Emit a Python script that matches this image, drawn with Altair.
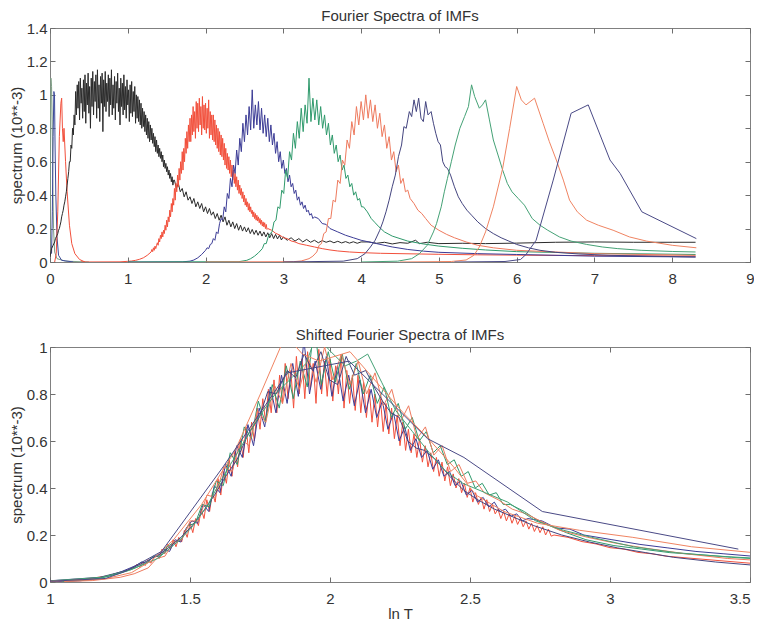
import altair as alt
import pandas as pd

# ---------------- data ----------------
LN2 = 0.6931  # shift between successive IMFs (ln 2)

C0_X = [0.0, 0.005, 0.012, 0.02, 0.028, 0.035, 0.045, 0.06, 0.09, 0.2, 0.5]
C0_Y = [0.1, 0.6, 1.1, 1.05, 0.85, 0.5, 0.2, 0.06, 0.02, 0.005, 0.0]
C1_X = [0.02, 0.03, 0.04, 0.05, 0.058, 0.065, 0.075, 0.09, 0.11, 0.15, 0.3]
C1_Y = [0.05, 0.3, 0.75, 1.02, 1.0, 0.7, 0.4, 0.15, 0.04, 0.01, 0.0]
C2_X = [0.06, 0.08, 0.1, 0.12, 0.14, 0.15, 0.16, 0.17, 0.18, 0.2, 0.22, 0.25, 0.28, 0.32, 0.38, 0.45]
C2_Y = [0.0, 0.05, 0.3, 0.75, 0.95, 0.98, 0.8, 0.72, 0.8, 0.6, 0.42, 0.22, 0.11, 0.05, 0.015, 0.0]

# IMF1 (black)
IMF1_PRE_X = [0.0, 0.02, 0.04]
IMF1_PRE_Y = [0.03, 0.08, 0.1]
IMF1_D_X0, IMF1_D_DX = 0.06, 0.01
IMF1_D_Y = [
    0.12, 0.14, 0.15, 0.16, 0.17, 0.19, 0.20, 0.22, 0.24, 0.27,
    0.29, 0.31, 0.34, 0.36, 0.39, 0.42, 0.46, 0.50, 0.54, 0.60,
    0.60, 0.70, 0.68, 0.80, 0.76, 0.88, 0.82,
    1.02, 0.88, 1.06, 0.92, 1.08, 0.85, 1.10, 0.95, 1.04, 0.86,
    1.09, 0.90, 1.12, 0.83, 1.07, 0.94, 1.13, 0.89, 1.05, 0.80,
    1.10, 0.93, 1.14, 0.88, 1.08, 0.96, 1.12, 0.86, 1.15, 0.92,
    1.06, 0.84, 1.11, 0.95, 1.13, 0.78, 1.09, 0.93, 1.14, 0.90,
    1.07, 0.96, 1.12, 0.87, 1.10, 0.94, 1.15, 0.88, 1.06, 0.92,
    1.11, 0.85, 1.08, 0.95, 1.13, 0.90, 1.04, 0.82, 1.10, 0.93,
    1.07, 0.88, 1.12, 0.91, 1.05, 0.86, 1.09, 0.94, 1.03, 0.84,
    1.06, 0.89, 1.08, 0.87, 1.02, 0.90, 1.05, 0.83, 1.00, 0.86,
    0.99, 0.84, 0.97, 0.82, 0.95, 0.80, 0.92, 0.81, 0.90, 0.78,
    0.88, 0.76, 0.86, 0.74, 0.84, 0.72, 0.82, 0.73, 0.80, 0.71,
    0.77, 0.69, 0.75, 0.66, 0.73, 0.65, 0.70, 0.63, 0.68, 0.62,
    0.66, 0.60, 0.64, 0.57, 0.61, 0.56, 0.59, 0.54, 0.57, 0.52,
    0.55, 0.50, 0.53, 0.48, 0.51, 0.46, 0.49,
]
IMF1_T_X0, IMF1_T_DX = 1.60, 0.025
IMF1_T_Y = [
    0.49, 0.44, 0.47, 0.42, 0.44, 0.39, 0.42, 0.37, 0.39, 0.35,
    0.38, 0.33, 0.36, 0.32, 0.35, 0.30, 0.33, 0.29, 0.32, 0.28,
    0.30, 0.26, 0.29, 0.25, 0.28, 0.24, 0.27, 0.22, 0.25, 0.21,
    0.24, 0.20, 0.23, 0.19, 0.22, 0.185, 0.21, 0.18, 0.205, 0.17,
    0.195, 0.165, 0.19, 0.16, 0.185, 0.155, 0.18, 0.15, 0.175, 0.145,
    0.17, 0.14, 0.165, 0.138, 0.16, 0.132, 0.15,
]
IMF1_U_X0, IMF1_U_DX = 3.05, 0.05
IMF1_U_Y = [0.13, 0.145, 0.125, 0.14, 0.12, 0.135, 0.118, 0.13, 0.115, 0.128,
            0.118, 0.126, 0.115, 0.124, 0.114, 0.122, 0.113, 0.121, 0.112, 0.12]
IMF1_END_X = [4.1, 4.2, 4.3, 4.4, 4.5, 4.6, 4.7, 4.75, 4.85, 5.0, 5.3, 5.6, 6.0, 6.5, 7.0, 7.5, 8.0, 8.3]
IMF1_END_Y = [0.12, 0.112, 0.118, 0.108, 0.116, 0.112, 0.13, 0.11, 0.118, 0.11, 0.112, 0.11,
              0.113, 0.118, 0.12, 0.118, 0.118, 0.118]

# IMF2 (red)
IMF2_PRE_X = [0.4, 0.9, 1.0, 1.05, 1.1, 1.15, 1.2, 1.25]
IMF2_PRE_Y = [0.0, 0.001, 0.004, 0.006, 0.01, 0.016, 0.025, 0.04]
IMF2_D_X0, IMF2_D_DX = 1.30, 0.01
IMF2_D_Y = [
    0.06, 0.075, 0.062, 0.085, 0.07, 0.095, 0.08, 0.10, 0.115, 0.10,
    0.14, 0.12, 0.16, 0.14, 0.18, 0.15, 0.19, 0.17, 0.22, 0.19,
    0.25, 0.21, 0.27, 0.24, 0.31, 0.27, 0.35, 0.30, 0.38, 0.34,
    0.44, 0.37, 0.47, 0.42, 0.52, 0.45, 0.56, 0.49, 0.60, 0.53,
    0.66, 0.55, 0.68, 0.60, 0.74, 0.65, 0.78, 0.68, 0.82, 0.72,
    0.86, 0.72, 0.88, 0.76, 0.93, 0.78, 0.90, 0.74, 0.96, 0.80,
    0.95, 0.78, 0.98, 0.82, 0.93, 0.76, 0.99, 0.80, 0.94, 0.79,
    0.95, 0.77, 0.92, 0.80, 0.97, 0.74, 0.90, 0.76, 0.88, 0.73,
    0.88, 0.72, 0.85, 0.70, 0.82, 0.68, 0.80, 0.66, 0.78, 0.64,
    0.76, 0.63, 0.74, 0.61, 0.71, 0.58, 0.68, 0.56, 0.65, 0.55,
    0.63, 0.53, 0.61, 0.51, 0.58, 0.49, 0.55, 0.47, 0.53, 0.45,
    0.51, 0.43, 0.49, 0.41, 0.46, 0.40, 0.44, 0.38, 0.42, 0.36,
    0.40, 0.34, 0.38, 0.33, 0.36, 0.31, 0.35, 0.30, 0.33, 0.29,
    0.31, 0.27, 0.30, 0.26, 0.29, 0.25, 0.28, 0.245, 0.27, 0.235,
    0.26, 0.225, 0.25, 0.215, 0.24, 0.21, 0.235, 0.20, 0.225, 0.195,
    0.20,
]
IMF2_T_X = [2.85, 2.9, 2.95, 3.0, 3.05, 3.1, 3.15, 3.2, 3.3, 3.4, 3.5, 3.6, 3.7, 3.85, 4.0,
            4.25, 4.5, 5.0, 5.5, 6.0, 7.0, 8.3]
IMF2_T_Y = [0.19, 0.172, 0.162, 0.146, 0.14, 0.126, 0.12, 0.11, 0.1, 0.09, 0.08, 0.072, 0.066,
            0.06, 0.056, 0.052, 0.05, 0.046, 0.043, 0.041, 0.038, 0.035]

# IMF3 (blue)
IMF3_PRE_X = [1.0, 1.7, 1.8, 1.85, 1.9, 1.95]
IMF3_PRE_Y = [0.0, 0.001, 0.005, 0.012, 0.025, 0.045]
IMF3_D_X0, IMF3_D_DX = 2.00, 0.02
IMF3_D_Y = [
    0.07, 0.085, 0.08, 0.105, 0.11, 0.14, 0.13, 0.18, 0.17, 0.23,
    0.26, 0.25, 0.33, 0.30, 0.41, 0.38, 0.50, 0.45, 0.58, 0.53,
    0.67, 0.58, 0.74, 0.66, 0.83, 0.72, 0.88, 0.76, 0.93, 0.79,
    1.03, 0.80, 0.94, 0.82, 0.96, 0.79, 0.92, 0.77, 0.88, 0.75,
    0.86, 0.72, 0.82, 0.70, 0.77, 0.65, 0.72, 0.60, 0.66, 0.56,
    0.61, 0.53, 0.56, 0.48, 0.52, 0.45, 0.47, 0.41, 0.43, 0.37,
    0.39, 0.34, 0.36, 0.32, 0.34, 0.30, 0.31, 0.28, 0.29, 0.26,
    0.27,
]
IMF3_T_X = [3.45, 3.5, 3.55, 3.6, 3.7, 3.8, 3.9, 4.0, 4.1, 4.2, 4.4, 4.6, 4.8, 5.0, 5.5, 6.0, 7.0, 8.3]
IMF3_T_Y = [0.26, 0.23, 0.225, 0.2, 0.18, 0.16, 0.145, 0.13, 0.12, 0.11, 0.09, 0.075, 0.065,
            0.058, 0.05, 0.045, 0.035, 0.03]

# IMF4 (green)
IMF4_PRE_X = [1.0, 2.43, 2.53, 2.58, 2.63, 2.68]
IMF4_PRE_Y = [0.0, 0.002, 0.01, 0.02, 0.035, 0.055]
IMF4_D_X0, IMF4_D_DX = 2.73, 0.025
IMF4_D_Y = [
    0.08, 0.11, 0.11, 0.15, 0.17, 0.18, 0.24, 0.25, 0.33, 0.32,
    0.43, 0.41, 0.55, 0.50, 0.66, 0.61, 0.77, 0.68, 0.84, 0.74,
    0.92, 0.78, 0.94, 0.83, 1.10, 0.84, 0.98, 0.85, 0.97, 0.82,
    0.93, 0.80, 0.88, 0.76, 0.83, 0.70, 0.76, 0.65, 0.70, 0.60,
    0.64, 0.55, 0.58, 0.50, 0.52, 0.45, 0.47, 0.40, 0.42, 0.37,
    0.38, 0.33, 0.33,
]
IMF4_T_X = [4.08, 4.13, 4.18, 4.23, 4.3, 4.4, 4.5, 4.6, 4.8, 5.0, 5.3, 5.6, 6.0, 7.0, 8.3]
IMF4_T_Y = [0.30, 0.26, 0.235, 0.21, 0.18, 0.155, 0.14, 0.125, 0.108, 0.095, 0.082, 0.072,
            0.062, 0.052, 0.045]

# IMF5 (salmon)
IMF5_PRE_X = [2.0, 3.13, 3.23, 3.33, 3.38]
IMF5_PRE_Y = [0.0, 0.002, 0.006, 0.02, 0.035]
IMF5_D_X0, IMF5_D_DX = 3.43, 0.03
IMF5_D_Y = [
    0.06, 0.10, 0.11, 0.17, 0.18, 0.26, 0.26, 0.37, 0.36, 0.49,
    0.47, 0.61, 0.58, 0.73, 0.68, 0.84, 0.76, 0.93, 0.82, 0.96,
    0.85, 1.00, 0.86, 0.97, 0.84, 0.94, 0.80, 0.89, 0.75, 0.82,
    0.68, 0.75, 0.61, 0.66, 0.54, 0.58, 0.47, 0.50, 0.42, 0.43,
    0.38,
]
IMF5_T_X = [4.68, 4.73, 4.78, 4.83, 4.9, 5.0, 5.1, 5.2, 5.35, 5.5, 5.7, 6.0, 6.5, 7.0, 8.3]
IMF5_T_Y = [0.35, 0.31, 0.29, 0.26, 0.22, 0.19, 0.165, 0.145, 0.12, 0.10, 0.085, 0.07, 0.06,
            0.05, 0.04]

# IMF6 (dark blue)
IMF6_X = [3.0, 3.77, 3.95, 4.05, 4.12, 4.18, 4.24, 4.28, 4.32, 4.36, 4.40, 4.44, 4.48, 4.52,
          4.55, 4.58, 4.62, 4.65, 4.68, 4.71, 4.74, 4.77, 4.80, 4.83, 4.86, 4.90, 4.93, 4.96,
          4.99, 5.02, 5.05, 5.08, 5.11, 5.15, 5.20, 5.25, 5.30, 5.36, 5.42, 5.50, 5.60, 5.70,
          5.80, 5.90, 6.00, 6.15, 6.30, 6.50, 6.80, 7.20, 7.70, 8.30]
IMF6_Y = [0.0, 0.005, 0.02, 0.05, 0.09, 0.13, 0.19, 0.24, 0.30, 0.37, 0.45, 0.52, 0.63, 0.7,
          0.81, 0.8, 0.9, 0.87, 0.97, 0.9, 0.98, 0.86, 0.84, 0.96, 0.88, 0.9, 0.83, 0.77,
          0.72, 0.7, 0.6, 0.57, 0.56, 0.52, 0.45, 0.39, 0.35, 0.31, 0.28, 0.24, 0.2, 0.17,
          0.145, 0.125, 0.105, 0.085, 0.07, 0.058, 0.048, 0.04, 0.035, 0.03]

# IMF7 (green)
IMF7_X = [4.0, 4.47, 4.65, 4.75, 4.85, 4.93, 4.97, 5.03, 5.07, 5.11, 5.16, 5.21, 5.27, 5.33,
          5.38, 5.42, 5.46, 5.52, 5.56, 5.60, 5.65, 5.70, 5.76, 5.82, 5.88, 5.94, 6.02, 6.10,
          6.20, 6.30, 6.40, 6.55, 6.70, 6.90, 7.10, 7.30, 7.60, 8.00, 8.30]
IMF7_Y = [0.0, 0.005, 0.02, 0.05, 0.1, 0.18, 0.23, 0.33, 0.42, 0.5, 0.6, 0.7, 0.8, 0.87,
          0.93, 1.06, 0.99, 0.92, 0.94, 0.97, 0.85, 0.73, 0.64, 0.55, 0.47, 0.42, 0.38, 0.34,
          0.26, 0.22, 0.19, 0.15, 0.125, 0.105, 0.09, 0.08, 0.07, 0.063, 0.06]

# IMF8 (orange)
IMF8_X = [4.5, 5.16, 5.35, 5.45, 5.52, 5.60, 5.70, 5.82, 5.91, 6.00, 6.06, 6.12, 6.23, 6.34,
          6.42, 6.51, 6.60, 6.68, 6.78, 6.90, 7.05, 7.24, 7.45, 7.67, 8.00, 8.31]
IMF8_Y = [0.0, 0.003, 0.012, 0.04, 0.09, 0.18, 0.33, 0.56, 0.8, 1.05, 0.97, 0.94, 0.98, 0.83,
          0.72, 0.61, 0.49, 0.37, 0.3, 0.25, 0.22, 0.19, 0.15, 0.125, 0.1, 0.085]

# IMF9 (dark blue)
IMF9_X = [5.2, 5.85, 6.05, 6.12, 6.25, 6.47, 6.70, 6.92, 7.20, 7.33, 7.61, 8.31]
IMF9_Y = [0.0, 0.003, 0.015, 0.045, 0.13, 0.49, 0.89, 0.94, 0.61, 0.53, 0.30, 0.14]

NAMES = ["c0", "c1", "c2", "imf1", "imf2", "imf3", "imf4", "imf5", "imf6", "imf7", "imf8", "imf9"]
COLORS = ["#7f9f86", "#3d4a9a", "#f2503c", "#2b2b2b", "#f2503c", "#3c3c96", "#2f9a6c",
          "#ee7a5e", "#44457f", "#45a276", "#f08462", "#4a4a86"]
SHIFTED = ["imf2", "imf3", "imf4", "imf5", "imf6", "imf7", "imf8", "imf9"]
SHIFT_STEPS = [0, 1, 2, 3, 4, 5, 6, 7]

TOP_X_TICKS = [0, 1, 2, 3, 4, 5, 6, 7, 8, 9]
TOP_Y_TICKS = [0, 0.2, 0.4, 0.6, 0.8, 1.0, 1.2, 1.4]
BOT_X_TICKS = [1, 1.5, 2, 2.5, 3, 3.5]
BOT_Y_TICKS = [0, 0.2, 0.4, 0.6, 0.8, 1.0]


# ---------------- build tables ----------------
def grid(x0, dx, ys):
    return [round(x0 + i * dx, 5) for i in range(len(ys))]


curves = {
    "c0": (C0_X, C0_Y),
    "c1": (C1_X, C1_Y),
    "c2": (C2_X, C2_Y),
    "imf1": (IMF1_PRE_X + grid(IMF1_D_X0, IMF1_D_DX, IMF1_D_Y) + grid(IMF1_T_X0, IMF1_T_DX, IMF1_T_Y)
             + grid(IMF1_U_X0, IMF1_U_DX, IMF1_U_Y) + IMF1_END_X,
             IMF1_PRE_Y + IMF1_D_Y + IMF1_T_Y + IMF1_U_Y + IMF1_END_Y),
    "imf2": (IMF2_PRE_X + grid(IMF2_D_X0, IMF2_D_DX, IMF2_D_Y) + IMF2_T_X, IMF2_PRE_Y + IMF2_D_Y + IMF2_T_Y),
    "imf3": (IMF3_PRE_X + grid(IMF3_D_X0, IMF3_D_DX, IMF3_D_Y) + IMF3_T_X, IMF3_PRE_Y + IMF3_D_Y + IMF3_T_Y),
    "imf4": (IMF4_PRE_X + grid(IMF4_D_X0, IMF4_D_DX, IMF4_D_Y) + IMF4_T_X, IMF4_PRE_Y + IMF4_D_Y + IMF4_T_Y),
    "imf5": (IMF5_PRE_X + grid(IMF5_D_X0, IMF5_D_DX, IMF5_D_Y) + IMF5_T_X, IMF5_PRE_Y + IMF5_D_Y + IMF5_T_Y),
    "imf6": (IMF6_X, IMF6_Y),
    "imf7": (IMF7_X, IMF7_Y),
    "imf8": (IMF8_X, IMF8_Y),
    "imf9": (IMF9_X, IMF9_Y),
}

rows = []
for name in NAMES:
    xs, ys = curves[name]
    for xv, yv in zip(xs, ys):
        rows.append({"x": xv, "y": yv, "curve": name})
top_df = pd.DataFrame(rows)

brows = []
for name, k in zip(SHIFTED, SHIFT_STEPS):
    xs, ys = curves[name]
    for xv, yv in zip(xs, ys):
        brows.append({"x": xv - k * LN2, "y": yv, "curve": name})
bot_df = pd.DataFrame(brows)
bot_df = bot_df[(bot_df.x > 0.7) & (bot_df.x < 3.8)]

# ---------------- styling ----------------
FONT = "Liberation Sans"
TXT = "#333333"
AXC = "#6e6e6e"


def ax(orient, values, labels=True, title=None, last=None):
    is_y = orient in ("left", "right")
    kw = dict(orient=orient, values=values, format="~g", labels=labels, title=title,
              offset=-5, tickSize=5, tickColor=AXC, tickWidth=1, domain=False, grid=False,
              labelFlush=False, labelFont=FONT, labelFontSize=15, labelColor=TXT,
              labelPadding=3 if is_y else 9, titleFont=FONT, titleFontSize=15,
              titleColor=TXT, titleFontWeight="normal", titlePadding=2 if is_y else 0)
    if last is not None:
        # keep the right-most label inside the page
        kw["labelAlign"] = {"condition": {"test": f"datum.value >= {last}", "value": "right"},
                            "value": "center"}
    return alt.Axis(**kw)


color = alt.Color("curve:N", scale=alt.Scale(domain=NAMES, range=COLORS), legend=None)


def panel(df, xdom, ydom, xt, yt, xtitle, ytitle, w, h, title, last=None):
    xs = alt.Scale(domain=xdom, nice=False, zero=False)
    ys = alt.Scale(domain=ydom, nice=False, zero=False)
    lines = alt.Chart(df).mark_line(strokeWidth=1, clip=True).encode(
        x=alt.X("x:Q", scale=xs, axis=ax("bottom", xt, True, xtitle, last)),
        y=alt.Y("y:Q", scale=ys, axis=ax("left", yt, True, ytitle)),
        color=color,
    )
    tick_df = pd.DataFrame({"tx": [xdom[0]], "ty": [ydom[0]]})
    ghost = alt.Chart(tick_df).mark_point(opacity=0).encode(
        x=alt.X("tx:Q", scale=xs, axis=ax("top", xt, False)),
        y=alt.Y("ty:Q", scale=ys, axis=ax("right", yt, False)),
    )
    return alt.layer(lines, ghost).resolve_axis(x="independent", y="independent").properties(
        width=w, height=h,
        title=alt.TitleParams(title, font=FONT, fontSize=15, fontWeight="normal", color=TXT,
                              anchor="middle", offset=-3),
    )


top = panel(top_df, [0, 9], [0, 1.4], TOP_X_TICKS, TOP_Y_TICKS, None, "spectrum (10**-3)",
            700, 234, "Fourier Spectra of IMFs")
bottom = panel(bot_df, [1, 3.5], [0, 1], BOT_X_TICKS, BOT_Y_TICKS, "ln T", "spectrum (10**-3)",
               700, 235, "Shifted Fourier Spectra of IMFs", last=3.5)

chart = alt.vconcat(top, bottom, spacing=40).properties(
    padding={"left": 0, "top": 0, "right": -1, "bottom": 0},
    background="white",
).configure_view(stroke="#808080", strokeWidth=1)

chart.save("out.html", embed_options={"renderer": "svg", "actions": False})
